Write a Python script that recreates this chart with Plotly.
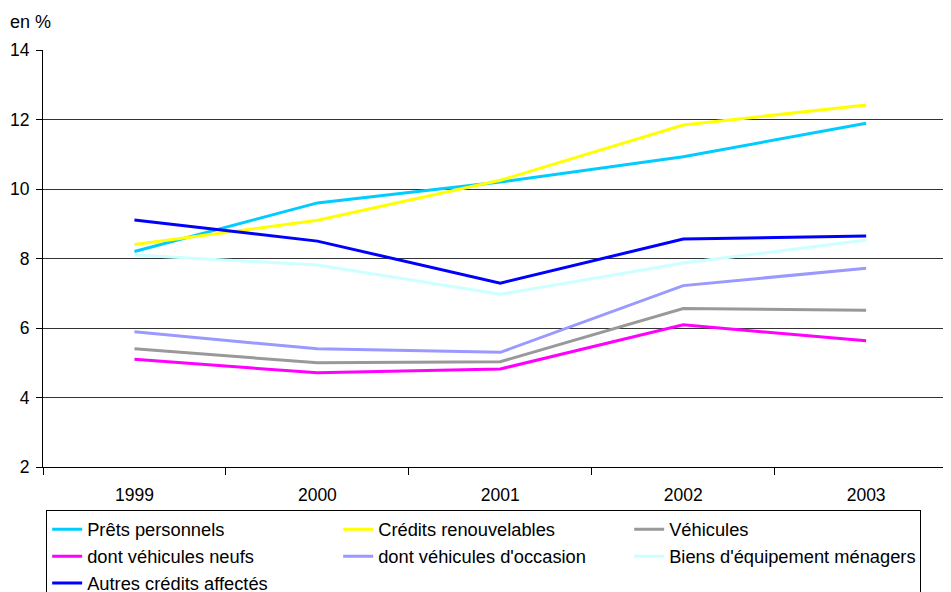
import plotly.graph_objects as go

years = ["1999", "2000", "2001", "2002", "2003"]

prets_personnels = [8.2, 9.6, 10.2, 10.93, 11.89]
credits_renouvelables = [8.4, 9.1, 10.25, 11.84, 12.42]
vehicules = [5.4, 5.0, 5.03, 6.56, 6.51]
vehicules_neufs = [5.1, 4.71, 4.82, 6.09, 5.63]
vehicules_occasion = [5.89, 5.4, 5.3, 7.22, 7.72]
biens_equipement = [8.1, 7.81, 6.97, 7.87, 8.53]
autres_credits = [9.11, 8.5, 7.29, 8.56, 8.65]

series_names = [
    "Prêts personnels",
    "Crédits renouvelables",
    "Véhicules",
    "dont véhicules neufs",
    "dont véhicules d'occasion",
    "Biens d'équipement ménagers",
    "Autres crédits affectés",
]
series_values = [
    prets_personnels,
    credits_renouvelables,
    vehicules,
    vehicules_neufs,
    vehicules_occasion,
    biens_equipement,
    autres_credits,
]
series_colors = ["#00CCFF", "#FFFF00", "#999999", "#FF00FF", "#9999FF", "#CCFFFF", "#0000FF"]

y_ticks = [2, 4, 6, 8, 10, 12, 14]

FONT = "Liberation Sans, Arial, sans-serif"

fig = go.Figure()
for name, vals, col in zip(series_names, series_values, series_colors):
    fig.add_trace(go.Scatter(
        x=years, y=vals, name=name, mode="lines",
        line=dict(color=col, width=3),
    ))

# page body has an 8px margin; figure sized so it ends at the window edge
fig.update_layout(
    width=943, height=584,
    margin=dict(l=35, r=0, t=42, b=125, autoexpand=False),
    paper_bgcolor="white", plot_bgcolor="white",
    font=dict(family=FONT, size=18, color="black"),
    showlegend=True,
    legend=dict(
        orientation="h",
        x=0.0035, xanchor="left",
        y=-0.103, yanchor="top",
        bordercolor="black", borderwidth=1,
        entrywidth=246, entrywidthmode="pixels",
        font=dict(family=FONT, size=18.3, color="black"),
        tracegroupgap=0,
        itemwidth=30,
    ),
    annotations=[dict(
        text="en %", xref="paper", yref="paper",
        x=-0.0143, y=1.067, xanchor="center", yanchor="middle",
        showarrow=False, font=dict(family=FONT, size=18, color="black"),
    )],
)

fig.update_xaxes(
    type="category",
    range=[-0.5, 4.464],
    tickson="boundaries",
    ticks="outside", ticklen=7, tickcolor="black", tickwidth=1,
    showline=True, linecolor="black", linewidth=1,
    showgrid=False, zeroline=False, automargin=False,
    ticklabelstandoff=12,
    tickfont=dict(family=FONT, size=17.5, color="black"),
)
fig.update_yaxes(
    range=[2, 14],
    tickvals=y_ticks,
    ticks="outside", ticklen=6, tickcolor="black", tickwidth=1,
    showline=True, linecolor="black", linewidth=1,
    showgrid=True, gridcolor="#333333", gridwidth=1,
    zeroline=False, automargin=False,
    ticklabelstandoff=3,
    tickfont=dict(family=FONT, size=17.5, color="black"),
)

fig.write_html("out.html")
